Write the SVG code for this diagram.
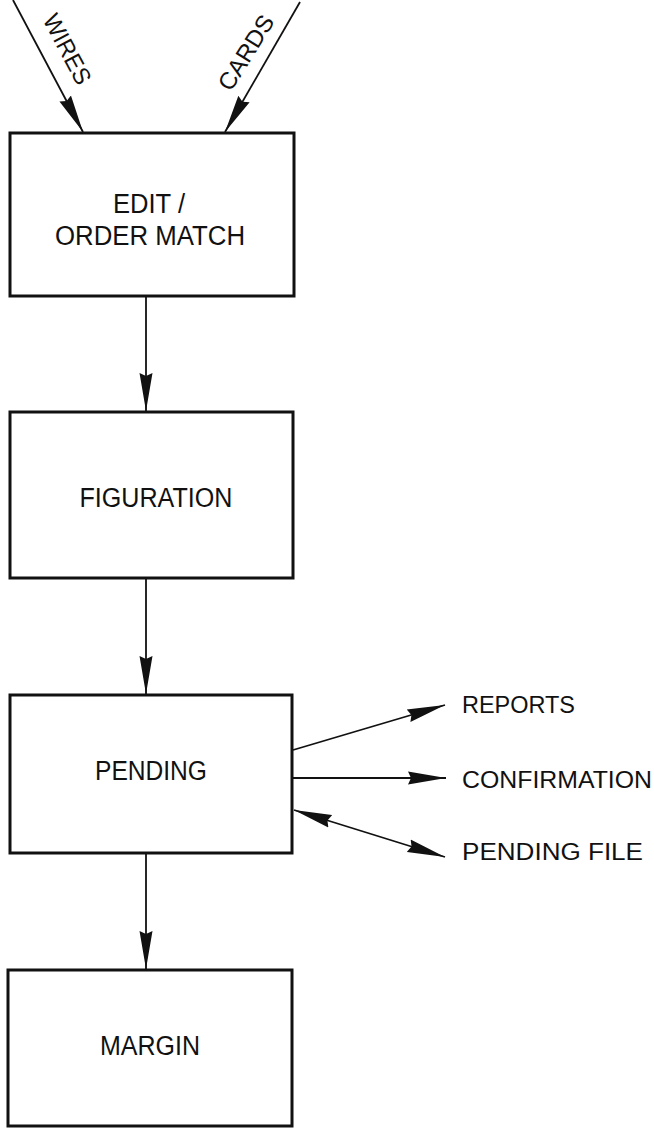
<svg xmlns="http://www.w3.org/2000/svg" width="654" height="1128" viewBox="0 0 654 1128">
<style>
.box{fill:#fff;stroke:#111;stroke-width:3}
.lbl{font-family:"Liberation Sans",Arial,sans-serif;font-size:27px;fill:#111}
.out{font-family:"Liberation Sans",Arial,sans-serif;font-size:23px;fill:#111}
.ln{stroke:#111;stroke-width:1.8;fill:none}
</style>
<defs>
<marker id="ah" markerUnits="userSpaceOnUse" markerWidth="40" markerHeight="16" viewBox="0 -8 40 16" refX="38" refY="0" orient="auto-start-reverse">
<path d="M0,-6.5 L38,0 L0,6.5 L3,0 z" fill="#111"/>
</marker>
</defs>
<g id="connectors">
<line class="ln" x1="13" y1="0" x2="83" y2="132" marker-end="url(#ah)"/>
<line class="ln" x1="300" y1="2" x2="225" y2="132" marker-end="url(#ah)"/>
<line class="ln" x1="146" y1="296" x2="146" y2="411" marker-end="url(#ah)"/>
<line class="ln" x1="146" y1="578" x2="146" y2="694" marker-end="url(#ah)"/>
<line class="ln" x1="146" y1="853" x2="146" y2="969" marker-end="url(#ah)"/>
<line class="ln" x1="293" y1="750" x2="445" y2="705" marker-end="url(#ah)"/>
<line class="ln" x1="293" y1="778" x2="446" y2="778" marker-end="url(#ah)"/>
<line class="ln" x1="294" y1="810" x2="445" y2="857" marker-start="url(#ah)" marker-end="url(#ah)"/>
<text class="out" transform="translate(60,53) rotate(62)" text-anchor="middle" textLength="76" lengthAdjust="spacingAndGlyphs" style="font-size:24px">WIRES</text>
<text class="out" transform="translate(253,57) rotate(-58)" text-anchor="middle" textLength="84" lengthAdjust="spacingAndGlyphs" style="font-size:24px">CARDS</text>
</g>
<g id="edit">
<rect class="box" x="10" y="133" width="284" height="163"/>
<text class="lbl" x="149" y="213" text-anchor="middle" textLength="72" lengthAdjust="spacingAndGlyphs">EDIT /</text>
<text class="lbl" x="150" y="245" text-anchor="middle" textLength="190" lengthAdjust="spacingAndGlyphs">ORDER MATCH</text>
</g>
<g id="figuration">
<rect class="box" x="10" y="412" width="283" height="166"/>
<text class="lbl" x="156" y="507" text-anchor="middle" textLength="153" lengthAdjust="spacingAndGlyphs">FIGURATION</text>
</g>
<g id="pending">
<rect class="box" x="10" y="695" width="282" height="158"/>
<text class="lbl" x="151" y="780" text-anchor="middle" textLength="112" lengthAdjust="spacingAndGlyphs">PENDING</text>
</g>
<g id="margin">
<rect class="box" x="8" y="970" width="284" height="156"/>
<text class="lbl" x="150" y="1055" text-anchor="middle" textLength="100" lengthAdjust="spacingAndGlyphs">MARGIN</text>
</g>
<g id="reports"><text class="out" x="462" y="713" textLength="113" lengthAdjust="spacingAndGlyphs">REPORTS</text></g>
<g id="confirmation"><text class="out" x="462" y="788" textLength="190" lengthAdjust="spacingAndGlyphs">CONFIRMATION</text></g>
<g id="pendingfile"><text class="out" x="462" y="860" textLength="181" lengthAdjust="spacingAndGlyphs">PENDING FILE</text></g>
</svg>
